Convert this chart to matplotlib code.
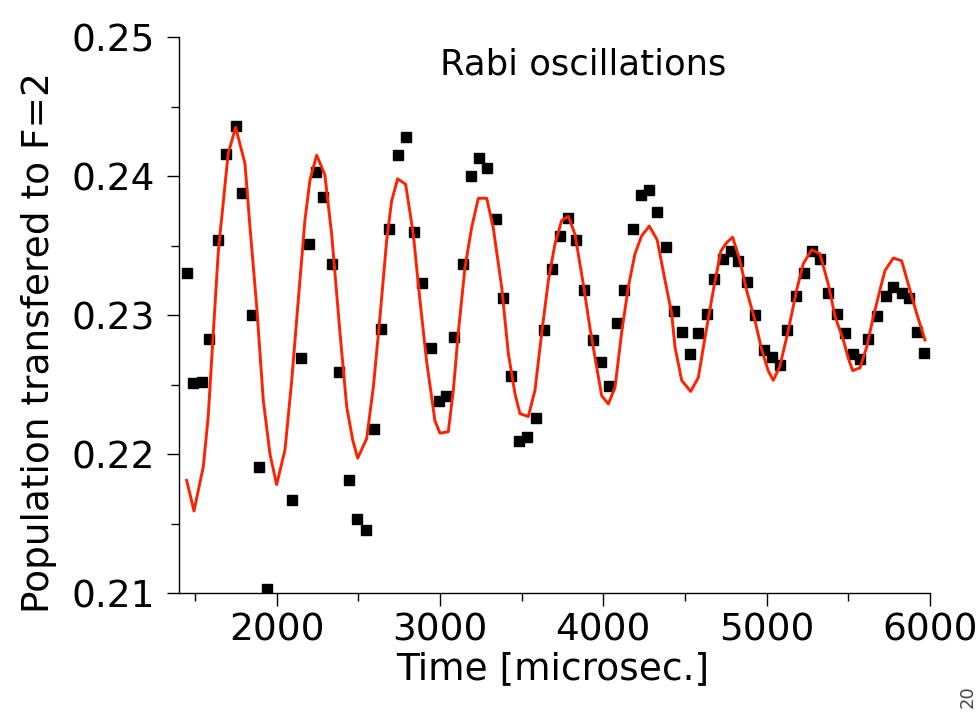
import matplotlib
matplotlib.use('Agg')

import matplotlib.pyplot as plt
from matplotlib.ticker import MultipleLocator

plt.rcParams['font.family'] = ['DejaVu Sans']

# measured points (time in microsec, population)
t_data = [1449, 1490, 1544, 1586, 1639, 1688, 1749, 1786, 1847, 1891, 1941,
          2095, 2147, 2200, 2241, 2282, 2337, 2384, 2443, 2493, 2545,
          2596, 2639, 2687, 2741, 2790, 2841, 2893, 2945, 2994, 3037,
          3088, 3139, 3188, 3239, 3289, 3343, 3388, 3435, 3485, 3534,
          3586, 3637, 3687, 3735, 3782, 3831, 3881, 3935, 3986, 4035,
          4082, 4126, 4180, 4229, 4279, 4330, 4382, 4433, 4479, 4531,
          4582, 4633, 4679, 4731, 4782, 4827, 4877, 4929, 4984, 5035,
          5081, 5126, 5180, 5229, 5275, 5327, 5378, 5429, 5483, 5531,
          5572, 5623, 5674, 5729, 5776, 5827, 5873, 5922, 5964]
p_data = [0.2330, 0.2251, 0.2252, 0.2283, 0.2354, 0.2416, 0.2436, 0.2388, 0.2300, 0.2191, 0.2103,
          0.2167, 0.2269, 0.2351, 0.2403, 0.2385, 0.2337, 0.2259, 0.2181, 0.2153, 0.2145,
          0.2218, 0.2290, 0.2362, 0.2415, 0.2428, 0.2360, 0.2323, 0.2276, 0.2238, 0.2242,
          0.2284, 0.2337, 0.2400, 0.2413, 0.2406, 0.2369, 0.2312, 0.2256, 0.2209, 0.2212,
          0.2226, 0.2289, 0.2333, 0.2357, 0.2370, 0.2354, 0.2318, 0.2282, 0.2266, 0.2249,
          0.2294, 0.2318, 0.2362, 0.2386, 0.2390, 0.2374, 0.2349, 0.2303, 0.2288, 0.2272,
          0.2287, 0.2301, 0.2326, 0.2340, 0.2346, 0.2339, 0.2324, 0.2300, 0.2275, 0.2270,
          0.2264, 0.2289, 0.2314, 0.2330, 0.2346, 0.2340, 0.2316, 0.2301, 0.2287, 0.2272,
          0.2268, 0.2283, 0.2299, 0.2314, 0.2320, 0.2316, 0.2312, 0.2288, 0.2273]

# fitted curve
t_fit = [1449, 1494, 1551, 1581, 1612, 1643, 1674, 1703, 1749, 1806, 1837, 1878, 1918, 1959,
         2000, 2051, 2091, 2132, 2173, 2204, 2245, 2295, 2337, 2388, 2429, 2466, 2496,
         2551, 2592, 2633, 2674, 2704, 2741, 2790, 2837, 2878, 2918, 2969, 3000,
         3051, 3082, 3112, 3153, 3194, 3235, 3286, 3326, 3378, 3419, 3460, 3490,
         3541, 3582, 3623, 3664, 3704, 3745, 3786, 3827, 3878, 3918, 3959, 3990,
         4031, 4072, 4112, 4153, 4194, 4235, 4282, 4330, 4378, 4419, 4439, 4480,
         4535, 4582, 4623, 4674, 4720, 4755, 4792, 4837, 4877, 4929, 4970, 5010,
         5041, 5081, 5133, 5184, 5225, 5276, 5327, 5378, 5419, 5470, 5500, 5527,
         5572, 5613, 5654, 5694, 5725, 5776, 5827, 5868, 5919, 5970]
p_fit = [0.2181, 0.2159, 0.2191, 0.2227, 0.2287, 0.2346, 0.2382, 0.2416, 0.2435, 0.2409, 0.2363, 0.2306, 0.2239, 0.2200,
         0.2178, 0.2203, 0.2251, 0.2310, 0.2368, 0.2397, 0.2415, 0.2401, 0.2358, 0.2287, 0.2234, 0.2210, 0.2197,
         0.2211, 0.2248, 0.2299, 0.2354, 0.2382, 0.2398, 0.2394, 0.2358, 0.2310, 0.2267, 0.2224, 0.2215,
         0.2216, 0.2246, 0.2287, 0.2334, 0.2363, 0.2384, 0.2384, 0.2363, 0.2320, 0.2272, 0.2243, 0.2229,
         0.2227, 0.2246, 0.2287, 0.2325, 0.2351, 0.2368, 0.2371, 0.2358, 0.2322, 0.2291, 0.2263, 0.2242,
         0.2236, 0.2248, 0.2287, 0.2320, 0.2344, 0.2357, 0.2364, 0.2354, 0.2325, 0.2301, 0.2277, 0.2253,
         0.2245, 0.2255, 0.2284, 0.2318, 0.2346, 0.2352, 0.2356, 0.2339, 0.2318, 0.2296, 0.2275, 0.2260,
         0.2253, 0.2263, 0.2289, 0.2318, 0.2337, 0.2347, 0.2344, 0.2322, 0.2299, 0.2282, 0.2269, 0.2260,
         0.2262, 0.2277, 0.2299, 0.2318, 0.2332, 0.2341, 0.2339, 0.2322, 0.2301, 0.2282]

fig = plt.figure(figsize=(9.78, 7.23), dpi=100)
ax = fig.add_axes([0.183, 0.1798, 0.768, 0.7690])

ax.plot(t_data, p_data, 's', color='black', ms=6.5, mec='black', zorder=2)
ax.plot(t_fit, p_fit, '-', color='#ff2200', lw=2.1, zorder=3)

ax.set_xlim(1402, 6001)
ax.set_ylim(0.21, 0.25)
ax.xaxis.set_major_locator(MultipleLocator(1000))
ax.xaxis.set_minor_locator(MultipleLocator(500))
ax.yaxis.set_major_locator(MultipleLocator(0.01))
ax.yaxis.set_minor_locator(MultipleLocator(0.005))
ax.set_yticklabels(['%.2f' % v for v in ax.get_yticks()])

for s in ['top', 'right']:
    ax.spines[s].set_visible(False)
for s in ['left', 'bottom']:
    ax.spines[s].set_linewidth(1.0)

ax.tick_params(which='major', direction='out', length=9, width=1.0, labelsize=27)
ax.tick_params(which='minor', direction='out', length=6, width=1.0)
ax.tick_params(axis='x', pad=5)
ax.tick_params(axis='y', pad=8)

ax.text(0.538, 0.950, 'Rabi oscillations', transform=ax.transAxes,
        ha='center', va='center', fontsize=25.5)

fig.text(0.040, 0.526, 'Population transfered to F=2', rotation=90,
         ha='center', va='center', fontsize=27)
fig.text(0.565, 0.074, 'Time [microsec.]', ha='center', va='center', fontsize=27)
fig.text(0.989, 0.036, '20', rotation=90, ha='center', va='center',
         fontsize=13, color='#444444')

fig.savefig('out.png', dpi=100)
